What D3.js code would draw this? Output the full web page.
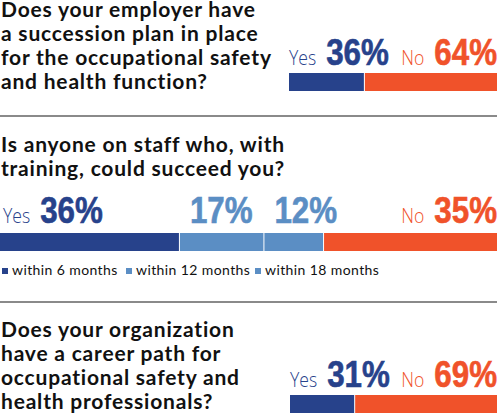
<!DOCTYPE html>
<html>
<head>
<meta charset="utf-8">
<script src="https://cdn.jsdelivr.net/npm/d3@7"></script>
<style>
  body { margin: 0; background: #fff; }
  svg { display: block; }
</style>
</head>
<body>
<svg id="chart" width="500" height="418"></svg>
<script>
// data
var q1Lines = ['Does your employer have', 'a succession plan in place', 'for the occupational safety', 'and health function?'];
var q1Values = [36, 64];
var q2Lines = ['Is anyone on staff who, with', 'training, could succeed you?'];
var q2Values = [36, 17, 12, 35];
var q2Legend = ['within 6 months', 'within 12 months', 'within 18 months'];
var q3Lines = ['Does your organization', 'have a career path for', 'occupational safety and', 'health professionals?'];
var q3Values = [31, 69];

var DARK = '#27428b', LIGHT = '#5b8ec4', ORANGE = '#f0522a', INK = '#111';
var QFONT = 'Lato, "Noto Sans", sans-serif';
var NUMFONT = '"Liberation Sans", Arial, sans-serif';
var WORDFONT = '"Open Sans", "Noto Sans", sans-serif';

var svg = d3.select('#chart');

function question(lines, y0) {
    svg.append('g').selectAll('text')
        .data(lines)
      .enter().append('text')
        .attr('x', 1)
        .attr('y', function(d, i) { return y0 + i * 24; })
        .style('font-family', QFONT)
        .style('font-weight', 700)
        .style('font-size', '21px')
        .style('letter-spacing', '0.8px')
        .style('fill', INK)
        .text(function(d) { return d; });
}

function stackBar(values, colors, x0, x1, y, h) {
    var x = d3.scaleLinear().domain([0, d3.sum(values)]).range([x0, x1]);
    var ends = d3.cumsum(values);
    var segs = values.map(function(v, i) {
        return {v: v, a: ends[i] - v, b: ends[i], c: colors[i]};
    });
    svg.append('g').selectAll('rect')
        .data(segs)
      .enter().append('rect')
        .attr('x', function(d, i) { return x(d.a) + (i ? 1 : 0); })
        .attr('y', y)
        .attr('width', function(d, i) { return x(d.b) - x(d.a) - (i ? 1 : 0); })
        .attr('height', h)
        .style('fill', function(d) { return d.c; });
    return {x: x, segs: segs};
}

// word + condensed number, laid out by measuring, anchored start or end
function label(word, value, color, xPos, y, anchor) {
    var g = svg.append('g');
    var cursor = 0;
    if(word) {
        var w = g.append('text')
            .attr('transform', 'scale(0.84,1)')
            .style('font-family', WORDFONT)
            .style('font-weight', 300)
            .style('font-size', '21px')
            .style('fill', color)
            .text(word);
        cursor = w.node().getComputedTextLength() * 0.84 + 10;
    }
    var n = g.append('text')
        .attr('transform', 'translate(' + cursor + ',0) scale(0.87,1)')
        .style('font-family', NUMFONT)
        .style('font-weight', 700)
        .style('font-size', '36px')
        .style('stroke', color)
        .style('stroke-width', 0.6)
        .style('fill', color)
        .text(value + '%');
    var total = cursor + n.node().getComputedTextLength() * 0.87;
    var gx = anchor === 'end' ? xPos - total : xPos;
    g.attr('transform', 'translate(' + gx + ',' + y + ')');
}

function rule(y) {
    svg.append('line')
        .attr('x1', 0).attr('x2', 497)
        .attr('y1', y).attr('y2', y)
        .style('stroke', '#8a8a8a')
        .style('stroke-width', 2);
}

// section 1
question(q1Lines, 17);
stackBar(q1Values, [DARK, ORANGE], 289, 497, 73, 18);
label('Yes', q1Values[0], DARK, 289, 65, 'start');
label('No', q1Values[1], ORANGE, 497, 65, 'end');
rule(116);

// section 2
question(q2Lines, 152);
var b2 = stackBar(q2Values, [DARK, LIGHT, LIGHT, ORANGE], 0, 497, 233, 18);
label('Yes', q2Values[0], DARK, 3, 223, 'start');
b2.segs.slice(1, 3).forEach(function(s) {
    label(null, s.v, LIGHT, b2.x(s.a) + 11, 223, 'start');
});
label('No', q2Values[3], ORANGE, 497, 223, 'end');

var legX = [2, 126, 255];
var leg = svg.append('g').selectAll('g')
    .data(q2Legend)
  .enter().append('g')
    .attr('transform', function(d, i) { return 'translate(' + legX[i] + ',275)'; });
leg.append('rect')
    .attr('x', 0).attr('y', -7)
    .attr('width', 6).attr('height', 6)
    .style('fill', function(d, i) { return i ? LIGHT : DARK; });
leg.append('text')
    .attr('x', 10)
    .style('font-family', QFONT)
    .style('font-size', '14px')
    .style('letter-spacing', '0.4px')
    .style('fill', INK)
    .text(function(d) { return d; });
rule(302);

// section 3
question(q3Lines, 337);
stackBar(q3Values, [DARK, ORANGE], 290, 497, 395, 18);
label('Yes', q3Values[0], DARK, 290, 387, 'start');
label('No', q3Values[1], ORANGE, 497, 387, 'end');
</script>
</body>
</html>
